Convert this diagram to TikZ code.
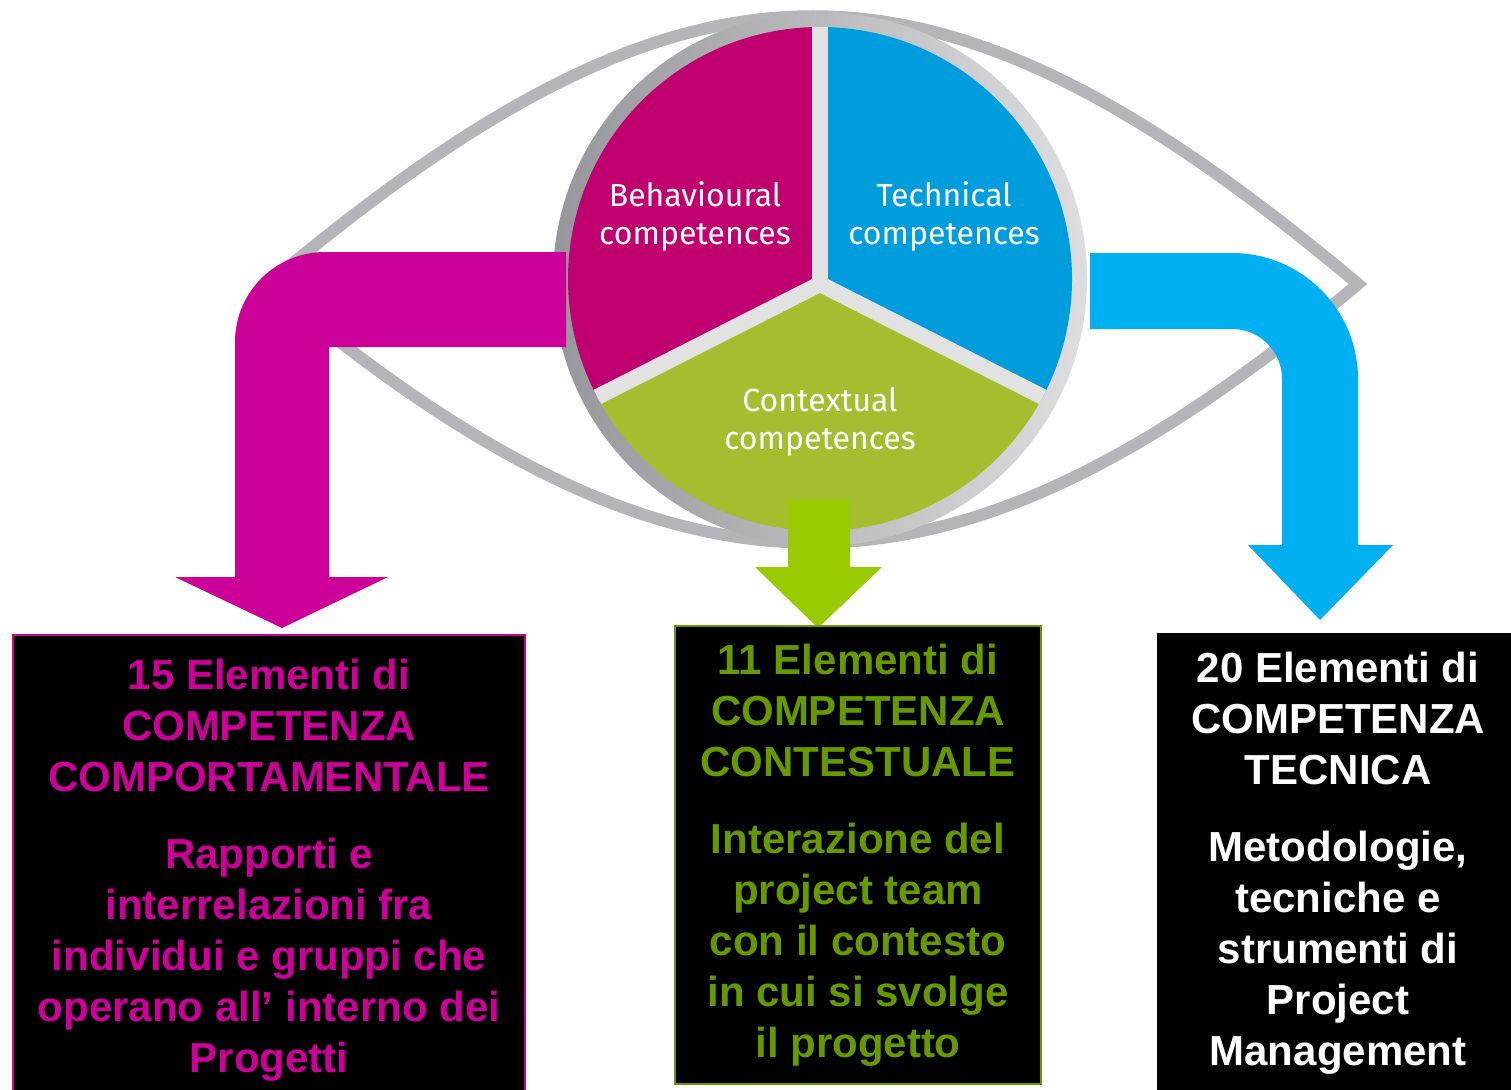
\documentclass[tikz,border=0pt]{standalone}
\usepackage{fontspec}
\setmainfont{Liberation Sans}
\newfontfamily\circfont{Fira Sans}
\usetikzlibrary{positioning}
\definecolor{pmmagenta}{RGB}{204,0,153}
\definecolor{pmblue}{RGB}{0,176,240}
\definecolor{pmgreen}{RGB}{153,204,0}
\definecolor{pmolive}{RGB}{102,153,0}
\definecolor{secmagenta}{RGB}{192,0,111}
\definecolor{secblue}{RGB}{0,157,221}
\definecolor{secgreen}{RGB}{164,190,48}
\definecolor{eyegray}{RGB}{180,181,184}
\definecolor{ringdark}{RGB}{150,151,154}
\definecolor{ringlight}{RGB}{222,222,224}
\definecolor{divgray}{RGB}{226,226,227}
\tikzstyle{eyeline} = [line width=12pt, draw=eyegray, line join=miter]
\tikzstyle{divider} = [line width=16pt, draw=divgray]
\tikzstyle{circtext} = [font=\circfont\fontsize{32}{38}\selectfont, text=white, align=center]
\tikzstyle{elbox} = [rectangle, anchor=north west, fill=black, line width=2pt, align=center, inner sep=0pt, font=\bfseries\fontsize{42}{51}\selectfont]

\begin{document}
\begin{tikzpicture}[x=1pt, y=-1pt]
\path[use as bounding box, fill=white] (0,0) rectangle (1511,1089);

% Eye outline
\coordinate (eyeL) at (268,284);
\coordinate (eyeR) at (1358,284);
\draw[eyeline] (eyeL) .. controls (693,-73) and (933,-73) .. (eyeR)
  .. controls (947,629) and (679,629) .. (eyeL) -- cycle;

% Ring and three sectors
\coordinate (ctr) at (820,279);
\coordinate (junc) at (820,284);
\shade[left color=ringdark, right color=ringlight] (ctr) circle[radius=267];
\begin{scope}
\clip (ctr) circle[radius=252];
\fill[secmagenta] (junc) -- (820,0) -- (540,0) -- (540,426) -- cycle;
\fill[secblue] (junc) -- (820,0) -- (1100,0) -- (1100,426) -- cycle;
\fill[secgreen] (junc) -- (540,426) -- (540,560) -- (1100,560) -- (1100,426) -- cycle;
\draw[divider] (junc) -- (820,0);
\draw[divider] (junc) -- (540,426);
\draw[divider] (junc) -- (1100,426);
\end{scope}

\node[circtext] (behav) at (695,216) {Behavioural\\competences};
\node[circtext] (techn) at (944,216) {Technical\\competences};
\node[circtext] (conte) at (820,422) {Contextual\\competences};

% Bent arrows
\fill[pmmagenta] (566,252) -- (325,252) arc[start angle=270, end angle=180, radius=90]
  -- (235,577) -- (175,577) -- (282,628) -- (388,577) -- (329,577) -- (329,347) -- (566,347) -- cycle;
\fill[pmblue] (1090,253) -- (1232,253) arc[start angle=270, end angle=360, radius=126]
  -- (1358,545) -- (1393,545) -- (1320,620) -- (1248,545) -- (1282,545) -- (1282,379)
  arc[start angle=0, end angle=-90, radius=50] -- (1090,329) -- cycle;
\fill[pmgreen] (788,500) -- (850,500) -- (850,567) -- (882,567) -- (818,628) -- (755,567) -- (788,567) -- cycle;

% Element boxes
\node[elbox, draw=pmmagenta, text=pmmagenta, minimum width=512pt, minimum height=470pt] (behbox) at (12,634)
  {15 Elementi di\\COMPETENZA\\COMPORTAMENTALE\\[26pt]Rapporti e\\interrelazioni fra\\individui e gruppi che\\operano all’ interno dei\\Progetti};
\node[elbox, draw=pmolive, text=pmolive, minimum width=366pt, minimum height=458pt] (conbox) at (674,625)
  {11 Elementi di\\COMPETENZA\\CONTESTUALE\\[26pt]Interazione del\\project team\\con il contesto\\in cui si svolge\\il progetto};
\node[elbox, draw=black, text=white, minimum width=360pt, minimum height=458pt] (tecbox) at (1157,633)
  {20 Elementi di\\COMPETENZA\\TECNICA\\[26pt]Metodologie,\\tecniche e\\strumenti di\\Project\\Management};
\end{tikzpicture}
\end{document}
